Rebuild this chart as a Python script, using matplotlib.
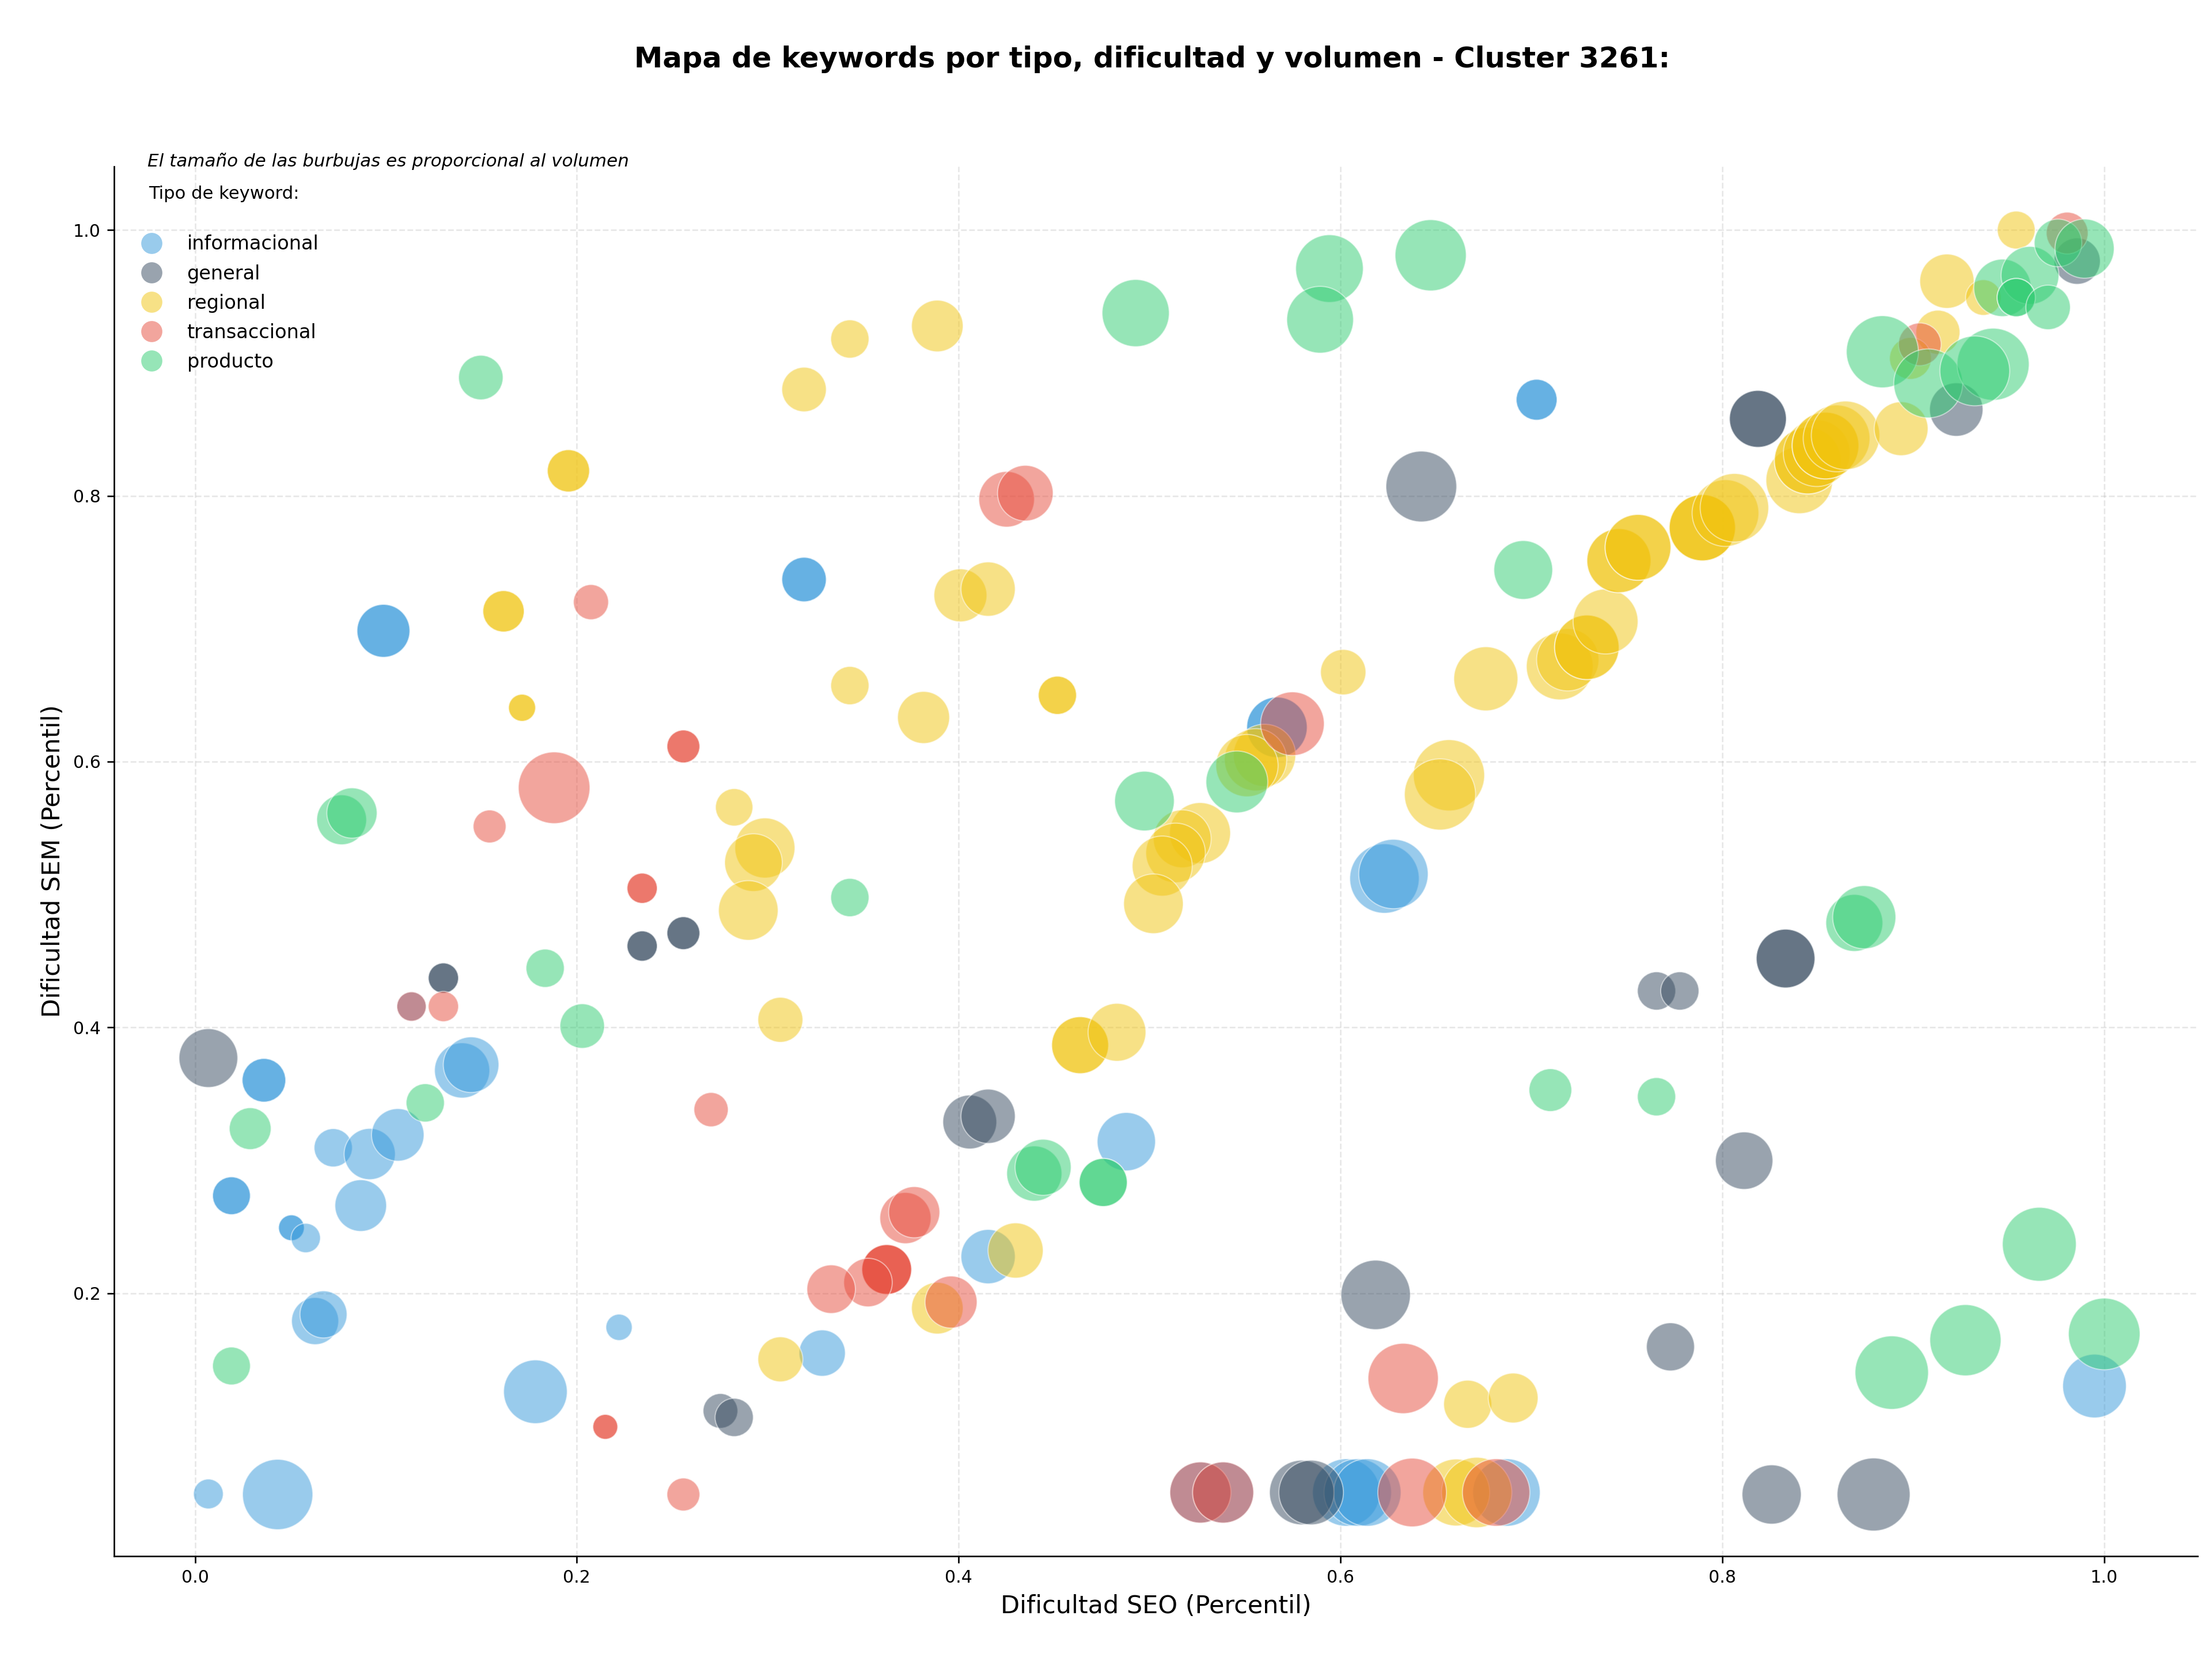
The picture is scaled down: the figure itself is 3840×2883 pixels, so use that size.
import matplotlib
matplotlib.use("Agg")
import matplotlib.pyplot as plt
from matplotlib.lines import Line2D

# ---------------- data ----------------
categories = ["informacional", "general", "regional", "transaccional", "producto"]
colors = ["#3498db", "#34495e", "#f1c40f", "#e74c3c", "#2ecc71"]

info_x = [0.319, 0.319, 0.0987, 0.0987, 0.7027, 0.7027, 0.5667, 0.5667, 0.623, 0.6277,
          0.4878, 0.4154, 0.3285, 0.0361, 0.0361, 0.0191, 0.0191, 0.0724, 0.0915, 0.1062,
          0.1399, 0.1446, 0.0868, 0.0505, 0.0505, 0.058, 0.0629, 0.0673, 0.1783, 0.2221,
          0.007, 0.0433, 0.9949, 0.1134, 0.5266, 0.5385, 0.603, 0.609, 0.614, 0.6869]
info_y = [0.737, 0.737, 0.6984, 0.6984, 0.8723, 0.8723, 0.6258, 0.6258, 0.512, 0.5154,
          0.314, 0.2275, 0.1549, 0.3602, 0.3602, 0.2733, 0.2733, 0.3094, 0.3047, 0.3191,
          0.3676, 0.3719, 0.2659, 0.2492, 0.2492, 0.2415, 0.179, 0.184, 0.1258, 0.1743,
          0.0489, 0.0485, 0.1301, 0.4157, 0.05, 0.05, 0.05, 0.05, 0.05, 0.05]
info_vol = [536, 536, 759, 759, 453, 453, 991, 991, 1304, 1304,
            920, 797, 580, 515, 515, 387, 387, 396, 709, 746,
            824, 837, 721, 180, 180, 233, 600, 600, 1096, 187,
            240, 1338, 1096, 233, 1011, 1011, 1232, 1232, 1232, 1232]

gen_x = [0.6423, 0.8186, 0.8186, 0.9225, 0.9858, 0.7655, 0.7777, 0.8331, 0.8331, 0.8114,
         0.7728, 0.8258, 0.8792, 0.6184, 0.4058, 0.4154, 0.2342, 0.2342, 0.2558, 0.2558,
         0.1301, 0.1301, 0.007, 0.2752, 0.2824, 0.5797, 0.5846]
gen_y = [0.807, 0.8579, 0.8579, 0.8649, 0.9766, 0.4274, 0.4274, 0.4518, 0.4518, 0.2997,
         0.1596, 0.0485, 0.0485, 0.1987, 0.3288, 0.3331, 0.4612, 0.4612, 0.4709, 0.4709,
         0.4371, 0.4371, 0.3769, 0.1114, 0.1065, 0.05, 0.05]
gen_vol = [1355, 878, 878, 772, 580, 396, 396, 934, 934, 892,
           625, 948, 1441, 1304, 785, 797, 248, 248, 293, 293,
           248, 248, 934, 326, 396, 1129, 1129]

reg_x = [0.319, 0.1956, 0.1956, 0.1616, 0.1616, 0.1713, 0.1713, 0.2824, 0.2985, 0.2925,
         0.2898, 0.343, 0.3888, 0.4009, 0.4154, 0.343, 0.3816, 0.4517, 0.4517, 0.6014,
         0.6761, 0.5602, 0.5555, 0.551, 0.5264, 0.5171, 0.5136, 0.5066, 0.502, 0.6568,
         0.6521, 0.3066, 0.4636, 0.4636, 0.4829, 0.3888, 0.4298, 0.3066, 0.6666, 0.6904,
         0.6606, 0.6713,
         0.7148, 0.719, 0.729, 0.729, 0.7388, 0.7458, 0.7458, 0.7558, 0.7558, 0.7895,
         0.7895, 0.7895, 0.8016, 0.8063, 0.8403, 0.8447, 0.8447, 0.8494, 0.854, 0.854,
         0.8598, 0.8645, 0.8936,
         0.9129, 0.8985, 0.9176, 0.9367, 0.9539]
reg_y = [0.880, 0.8188, 0.8188, 0.7131, 0.7131, 0.6405, 0.6405, 0.5656, 0.535, 0.524,
         0.488, 0.918, 0.9278, 0.7251, 0.7298, 0.6572, 0.6332, 0.6499, 0.6499, 0.6673,
         0.6623, 0.6047, 0.6014, 0.597, 0.5462, 0.5419, 0.5313, 0.5214, 0.493, 0.5897,
         0.5753, 0.4057, 0.3866, 0.3866, 0.3963, 0.1887, 0.2321, 0.1502, 0.1164, 0.1211,
         0.05, 0.05,
         0.6716, 0.6766, 0.686, 0.686, 0.7054, 0.7512, 0.7512, 0.7612, 0.7612, 0.776,
         0.776, 0.776, 0.787, 0.791, 0.8117, 0.8265, 0.8265, 0.8321, 0.8378, 0.8378,
         0.8432, 0.8455, 0.8505,
         0.9231, 0.9034, 0.9615, 0.9492, 1.0]
reg_vol = [536, 484, 484, 463, 463, 199, 199, 378, 976, 900,
           962, 396, 721, 759, 797, 396, 733, 396, 396, 557,
           1111, 1050, 1050, 1050, 1006, 906, 960, 976, 962, 1372,
           1372, 547, 878, 878, 906, 721, 824, 547, 625, 672,
           1211, 1340,
           1206, 1050, 1127, 1127, 1142, 1111, 1111, 1174, 1174, 1190,
           1190, 1190, 1206, 1271, 1206, 1206, 1206, 1206, 1206, 1206,
           1206, 1271, 785,
           525, 473, 797, 343, 387]

tra_x = [0.2074, 0.2558, 0.2558, 0.1881, 0.1543, 0.4251, 0.4349, 0.5748, 0.2342, 0.2342,
         0.1134, 0.1301, 0.2703, 0.3721, 0.3767, 0.3623, 0.3623, 0.3623, 0.3525, 0.3332,
         0.396, 0.6328, 0.2149, 0.2149, 0.2558, 0.5266, 0.5385, 0.6375, 0.6815, 0.9034,
         0.9806]
tra_y = [0.720, 0.6114, 0.6114, 0.5803, 0.5512, 0.7974, 0.802, 0.6285, 0.5047, 0.5047,
         0.4157, 0.4157, 0.3381, 0.2565, 0.2609, 0.2178, 0.2178, 0.2178, 0.208, 0.203,
         0.1933, 0.1358, 0.0994, 0.0994, 0.0485, 0.05, 0.05, 0.05, 0.05, 0.914,
         0.9977]
tra_vol = [334, 293, 293, 1389, 293, 837, 837, 1096, 248, 248,
           233, 248, 318, 709, 709, 672, 672, 672, 637, 637,
           733, 1338, 168, 168, 293, 1011, 1011, 1275, 1232, 494,
           473]

pro_x = [0.1497, 0.0768, 0.0822, 0.4927, 0.5942, 0.5893, 0.6472, 0.6957, 0.5457, 0.4973,
         0.343, 0.4396, 0.4442, 0.4757, 0.4757, 0.1834, 0.2028, 0.0289, 0.1206, 0.0191,
         0.7099, 0.7655, 0.8691, 0.8743, 0.966, 0.8887, 0.9273, 1.0, 0.8838, 0.9078,
         0.9418, 0.9322, 0.9467, 0.9611, 0.9539, 0.9539, 0.9706, 0.9758, 0.9897]
pro_y = [0.889, 0.5562, 0.5613, 0.9375, 0.971, 0.9325, 0.981, 0.7442, 0.5847, 0.5703,
         0.4977, 0.29, 0.2947, 0.2833, 0.2833, 0.4445, 0.401, 0.3238, 0.3432, 0.1452,
         0.3528, 0.3478, 0.4786, 0.4829, 0.2368, 0.1402, 0.1646, 0.1693, 0.9084, 0.8846,
         0.899, 0.894, 0.9565, 0.9659, 0.9492, 0.9492, 0.9418, 0.9903, 0.986]
pro_vol = [536, 672, 684, 1222, 1238, 1206, 1372, 934, 1035, 962,
           396, 824, 851, 625, 625, 396, 536, 473, 396, 387,
           494, 396, 878, 1080, 1477, 1459, 1372, 1389, 1406, 1287,
           1406, 1321, 892, 906, 396, 396, 536, 613, 948]

series = [(info_x, info_y, info_vol), (gen_x, gen_y, gen_vol), (reg_x, reg_y, reg_vol),
          (tra_x, tra_y, tra_vol), (pro_x, pro_y, pro_vol)]

title = "Mapa de keywords por tipo, dificultad y volumen - Cluster 3261:"
note = "El tamaño de las burbujas es proporcional al volumen"
legend_title = "Tipo de keyword:"
xlabel = "Dificultad SEO (Percentil)"
ylabel = "Dificultad SEM (Percentil)"

# ---------------- figure ----------------
plt.rcParams["font.family"] = ["DejaVu Sans"]
fig = plt.figure(figsize=(16, 12.0125), dpi=240)
ax = fig.add_axes([198 / 3840, 182 / 2883, 3617 / 3840, 2412 / 2883])

for (xs, ys, vs), col in zip(series, colors):
    ax.scatter(xs, ys, s=vs, color=col, alpha=0.5, edgecolors="white", linewidths=0.6, zorder=3)

ax.set_xlim(-0.0424, 1.0489)
ax.set_ylim(0.0021, 1.0478)
ax.set_xticks([0.0, 0.2, 0.4, 0.6, 0.8, 1.0])
ax.set_yticks([0.2, 0.4, 0.6, 0.8, 1.0])
ax.tick_params(labelsize=9)
ax.grid(True, linestyle="--", alpha=0.3, zorder=0)
ax.set_axisbelow(True)
for sp in ["top", "right"]:
    ax.spines[sp].set_visible(False)

ax.set_xlabel(xlabel, fontsize=12.9)
ax.set_ylabel(ylabel, fontsize=12.9)

fig.text(0.5209, 1 - 117 / 2883, title, ha="center", va="baseline",
         fontsize=14.9, fontweight="bold")

ax.text(0.016, 1.0, note, transform=ax.transAxes, fontsize=9.3, style="italic",
        ha="left", va="baseline")
ax.text(0.0165, 0.9768, legend_title, transform=ax.transAxes, fontsize=9.2,
        ha="left", va="baseline")

handles = [Line2D([], [], marker="o", linestyle="", markersize=11, markerfacecolor=c,
                  markeredgecolor="none", alpha=0.5) for c in colors]
ax.legend(handles, categories, loc="upper left", bbox_to_anchor=(0.00866, 0.9509),
          frameon=False, borderpad=0, borderaxespad=0, handlelength=2.0,
          handletextpad=0.83, labelspacing=0.54, fontsize=10.1)

fig.savefig("out.png", dpi=240)
